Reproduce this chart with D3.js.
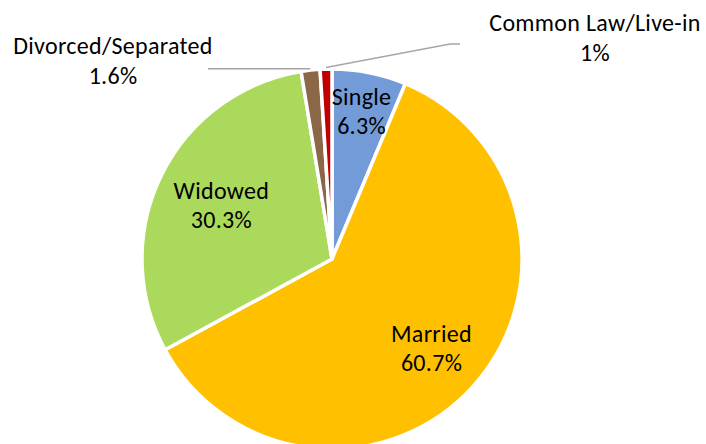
<!DOCTYPE html>
<html>
<head>
<meta charset="utf-8">
<script src="https://cdn.jsdelivr.net/npm/d3@7"></script>
<style>
  html, body { margin: 0; padding: 0; background: #fff; }
  svg text { font-family: Carlito, Lato, "Open Sans", sans-serif; fill: #000; }
</style>
</head>
<body>
<svg id="chart" width="706" height="444"></svg>
<script>
// ---- data ----
const categories = ["Single", "Married", "Widowed", "Divorced/Separated", "Common Law/Live-in"];
const values = [6.3, 60.7, 30.3, 1.6, 1.0];
const valueLabels = ["6.3%", "60.7%", "30.3%", "1.6%", "1%"];
const colors = ["#729BD7", "#FFC000", "#ABD95C", "#8B6647", "#C00000"];

// ---- layout ----
const W = 706, H = 444;
const cx = 332, cy = 259, R = 190;
const fontSize = 24;
// inside labels: [labelRadius, angleOffset]; outside labels: anchor + leader
const inside = { 0: [157, -0.009], 1: [129.5, -0.04], 2: [126, 0.044] };
const outside = {
  3: { x: 113, y: 54, leader: [[208, null]] },
  4: { x: 595, y: 31, leader: [[450, 44], [460, 44]] }
};

const svg = d3.select("#chart");
const g = svg.append("g").attr("transform", `translate(${cx},${cy})`);

const pie = d3.pie().sort(null).value(d => d.v).startAngle(0).endAngle(2 * Math.PI);
const data = categories.map((c, i) => ({ c, v: values[i], lab: valueLabels[i], col: colors[i], i }));
const arcs = pie(data);
const arc = d3.arc().innerRadius(0).outerRadius(R);

g.selectAll("path.slice").data(arcs).join("path")
  .attr("class", "slice")
  .attr("d", arc)
  .attr("fill", d => d.data.col)
  .attr("stroke", "#fff")
  .attr("stroke-width", 3.5)
  .attr("stroke-linejoin", "round");

const polar = (r, a) => [r * Math.sin(a), -r * Math.cos(a)];

arcs.forEach(d => {
  const i = d.data.i;
  const mid = (d.startAngle + d.endAngle) / 2;
  let x, y;
  if (inside[i]) {
    [x, y] = polar(inside[i][0], mid + inside[i][1]);
  } else {
    const o = outside[i];
    x = o.x - cx; y = o.y - cy;
    const s = polar(R + 1.5, mid);
    const pts = [s];
    o.leader.forEach(p => pts.push([p[0] - cx, p[1] === null ? s[1] : p[1] - cy]));
    g.append("path")
      .attr("d", d3.line()(pts))
      .attr("fill", "none")
      .attr("stroke", "#A6A6A6")
      .attr("stroke-width", 1.5);
  }
  const t = g.append("text")
    .attr("text-anchor", "middle")
    .attr("font-size", fontSize)
    .attr("letter-spacing", 0.3);
  t.append("tspan").attr("x", x).attr("y", y).text(d.data.c);
  t.append("tspan").attr("x", x).attr("y", y + 29.5).text(d.data.lab);
});
</script>
</body>
</html>
